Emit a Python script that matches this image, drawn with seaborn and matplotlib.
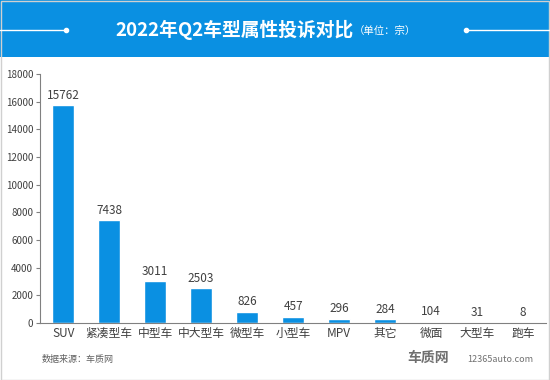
import matplotlib
matplotlib.use('Agg')
import matplotlib.pyplot as plt
import seaborn as sns
import pandas as pd
from matplotlib.patches import Rectangle
from matplotlib.lines import Line2D

# =========================================
# DATA
# =========================================

categories = ["SUV", "紧凑型车", "中型车", "中大型车", "微型车", "小型车",
              "MPV", "其它", "微面", "大型车", "跑车"]
complaints = [15762, 7438, 3011, 2503, 826, 457, 296, 284, 104, 31, 8]
y_ticks = [0, 2000, 4000, 6000, 8000, 10000, 12000, 14000, 16000, 18000]

title_main = "2022年Q2车型属性投诉对比"
title_unit = "（单位：宗）"
source_text = "数据来源：车质网"

BLUE = "#0a90e2"
TEXT = "#404040"

df = pd.DataFrame({"车型": categories, "投诉量": complaints})

# =========================================
# PLOT
# =========================================

sns.set_style("white")
plt.rcParams['font.family'] = ['Noto Sans CJK SC', 'DejaVu Sans']

fig = plt.figure(figsize=(5.5, 3.8), dpi=100)

# header band
fig.patches.append(Rectangle((0, 0.85), 1, 0.15, transform=fig.transFigure,
                             facecolor=BLUE, edgecolor="none", zorder=0))
fig.lines.append(Line2D([0, 0.12], [0.921, 0.921], transform=fig.transFigure,
                        color="white", lw=1))
fig.lines.append(Line2D([0.848, 1], [0.921, 0.921], transform=fig.transFigure,
                        color="white", lw=1))
fig.lines.append(Line2D([0.12], [0.921], transform=fig.transFigure,
                        color="white", marker="o", markersize=3))
fig.lines.append(Line2D([0.848], [0.921], transform=fig.transFigure,
                        color="white", marker="o", markersize=3))
fig.text(0.643, 0.921, title_main, color="white", fontsize=13.5,
         fontweight="bold", ha="right", va="center")
fig.text(0.643, 0.918, title_unit, color="white", fontsize=7.5,
         ha="left", va="center")

# outer border
fig.patches.append(Rectangle((0.001, 0.001), 0.997, 0.997, transform=fig.transFigure,
                             facecolor="none", edgecolor="#d0d0d0", lw=1))

ax = fig.add_axes([0.073, 0.15, 0.92, 0.655])

sns.barplot(data=df, x="车型", y="投诉量", color=BLUE, width=0.48,
            saturation=1, ax=ax)

for i, v in enumerate(complaints):
    ax.text(i, v + 250, f"{v}", ha="center", va="bottom",
            fontsize=8.5, color=TEXT)

ax.set_ylim(0, 18000)
ax.set_xlim(-0.5, len(categories) - 0.5)
ax.set_yticks(y_ticks)
ax.set_yticklabels([str(t) for t in y_ticks], fontsize=7, color=TEXT)
ax.tick_params(axis="x", labelsize=8.5, labelcolor=TEXT, length=0, pad=3)
ax.tick_params(axis="y", length=3, color="#808080", pad=2, left=True)
ax.set_xlabel("")
ax.set_ylabel("")

for s in ["top", "right"]:
    ax.spines[s].set_visible(False)
for s in ["left", "bottom"]:
    ax.spines[s].set_color("#808080")
    ax.spines[s].set_linewidth(0.8)

fig.text(0.075, 0.055, source_text, fontsize=6.5, color="#606060",
         ha="left", va="center")
fig.text(0.74, 0.058, "车质网", fontsize=10, color="#707070",
         ha="left", va="center", fontweight="bold")
fig.text(0.85, 0.055, "12365auto.com", fontsize=6.5, color="#707070",
         ha="left", va="center")

fig.savefig("out.png", dpi=100)
plt.close(fig)
